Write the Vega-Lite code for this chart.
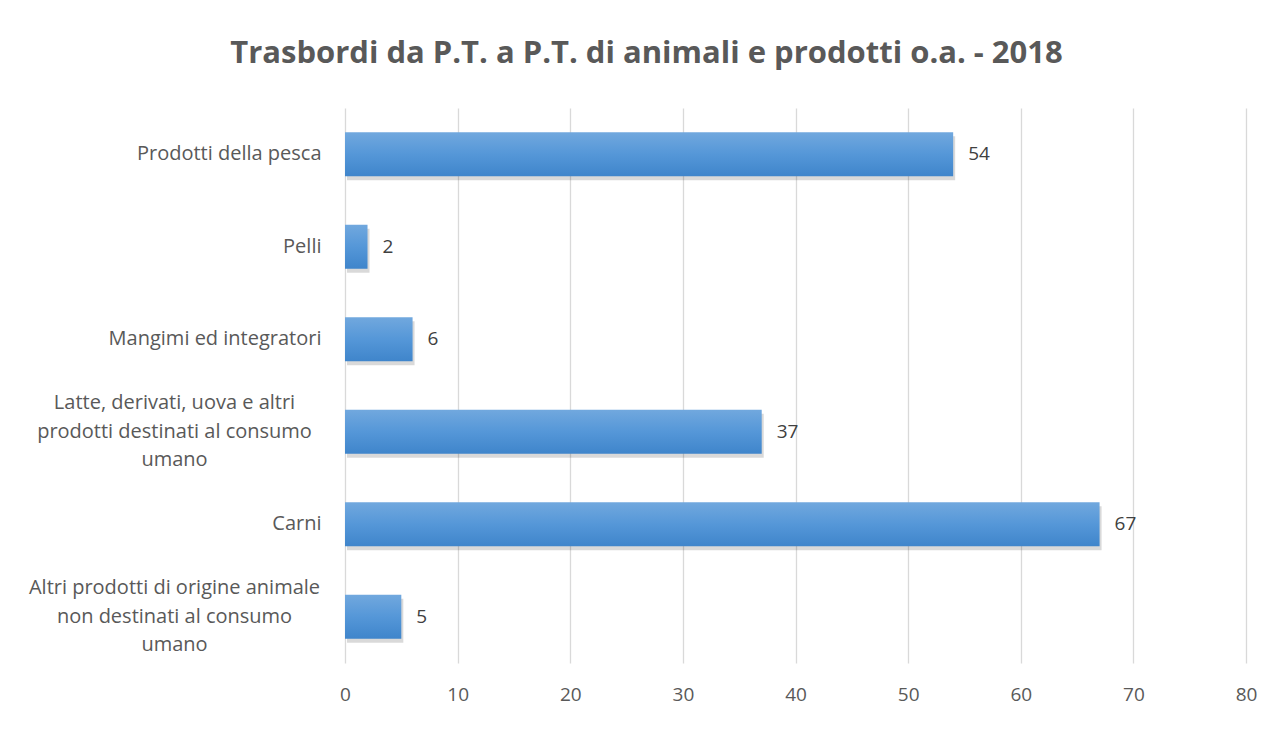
{
  "$schema": "https://vega.github.io/schema/vega-lite/v6.json",
  "width": 901,
  "height": 555,
  "autosize": "none",
  "padding": {"left": 345, "top": 108, "right": 28, "bottom": 68},
  "background": "white",
  "title": {
    "text": "Trasbordi da P.T. a P.T. di animali e prodotti o.a. - 2018",
    "font": "Open Sans",
    "fontSize": 31,
    "fontWeight": "bold",
    "color": "#595959",
    "anchor": "middle",
    "baseline": "alphabetic",
    "dx": -149,
    "offset": 14
  },
  "config": {"view": {"stroke": null}},
  "data": {
    "values": [
      {"categoria": "Prodotti della pesca", "valore": 54},
      {"categoria": "Pelli", "valore": 2},
      {"categoria": "Mangimi ed integratori", "valore": 6},
      {"categoria": "Latte, derivati, uova e altri prodotti destinati al consumo umano", "valore": 37},
      {"categoria": "Carni", "valore": 67},
      {"categoria": "Altri prodotti di origine animale non destinati al consumo umano", "valore": 5}
    ]
  },
  "encoding": {
    "y": {
      "field": "categoria",
      "type": "nominal",
      "sort": [
        "Prodotti della pesca",
        "Pelli",
        "Mangimi ed integratori",
        "Latte, derivati, uova e altri prodotti destinati al consumo umano",
        "Carni",
        "Altri prodotti di origine animale non destinati al consumo umano"
      ],
      "scale": {"paddingInner": 0.524, "paddingOuter": 0.262},
      "axis": {
        "title": null,
        "domain": false,
        "ticks": false,
        "labelFont": "Open Sans",
        "labelFontSize": 20,
        "labelColor": "#595959",
        "labelLineHeight": 28.5,
        "labelLimit": 0,
        "labelExpr": "datum.value == 'Latte, derivati, uova e altri prodotti destinati al consumo umano' ? ['Latte, derivati, uova e altri', 'prodotti destinati al consumo', 'umano'] : datum.value == 'Altri prodotti di origine animale non destinati al consumo umano' ? ['Altri prodotti di origine animale', 'non destinati al consumo', 'umano'] : datum.value",
        "labelAlign": {"condition": {"test": "length(datum.value) > 30", "value": "center"}, "value": "right"},
        "labelPadding": {"condition": {"test": "length(datum.value) > 30", "value": 171}, "value": 24},
        "labelOffset": {"condition": {"test": "length(datum.value) > 30", "value": -28.5}, "value": 0}
      }
    },
    "x": {
      "field": "valore",
      "type": "quantitative",
      "scale": {"domain": [0, 80], "nice": false},
      "axis": {
        "title": null,
        "values": [0, 10, 20, 30, 40, 50, 60, 70, 80],
        "grid": true,
        "gridColor": "#d9d9d9",
        "gridWidth": 1.3,
        "domain": false,
        "ticks": false,
        "labelFlush": false,
        "labelPadding": 22,
        "labelFont": "Open Sans",
        "labelFontSize": 19,
        "labelColor": "#595959"
      }
    }
  },
  "layer": [
    {
      "mark": {"type": "bar", "color": "#000000", "opacity": 0.15, "xOffset": 2, "x2Offset": 3, "yOffset": 4}
    },
    {
      "mark": {
        "type": "bar",
        "color": {
          "gradient": "linear",
          "x1": 0, "y1": 0, "x2": 0, "y2": 1,
          "stops": [
            {"offset": 0, "color": "#71a8de"},
            {"offset": 0.5, "color": "#5597d8"},
            {"offset": 1, "color": "#3f85cb"}
          ]
        }
      }
    },
    {
      "mark": {"type": "text", "align": "left", "baseline": "middle", "dx": 15, "font": "Open Sans", "fontSize": 19, "color": "#404040"},
      "encoding": {"text": {"field": "valore", "type": "quantitative"}}
    }
  ]
}
